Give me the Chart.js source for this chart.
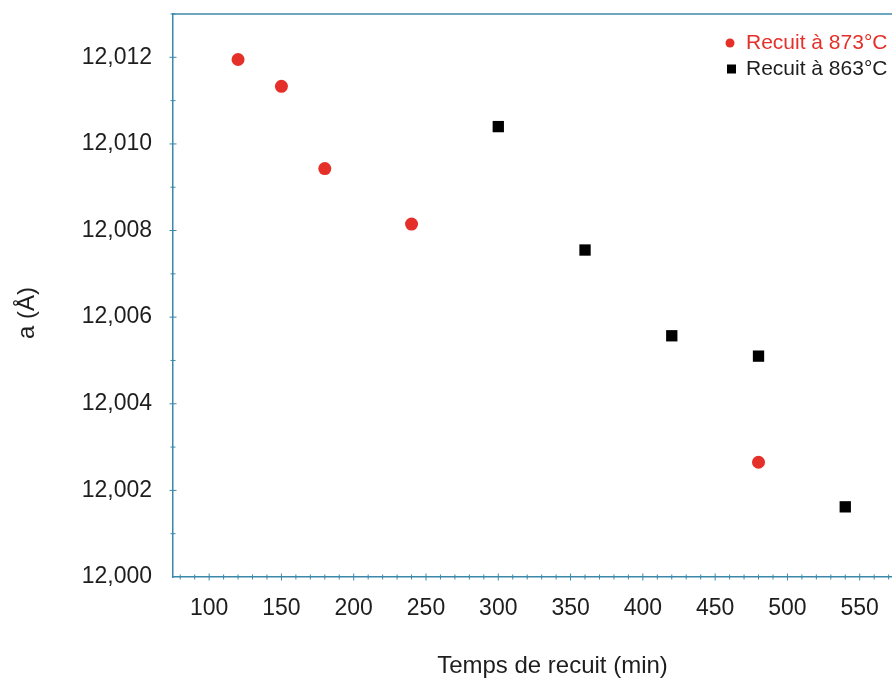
<!DOCTYPE html>
<html>
<head>
<meta charset="utf-8">
<script src="https://cdn.jsdelivr.net/npm/chart.js@4/dist/chart.umd.min.js"></script>
<style>
html, body { margin: 0; padding: 0; background: #fff; overflow: hidden; }
</style>
</head>
<body>
<canvas id="lattice-chart" width="940" height="682"></canvas>
<script>
// Recuit a 873 C
var times873 = [120, 150, 180, 240, 480];
var a873 = [12.01195, 12.01133, 12.00943, 12.00815, 12.00265];
// Recuit a 863 C
var times863 = [300, 360, 420, 480, 540];
var a863 = [12.01040, 12.00755, 12.00557, 12.00510, 12.00162];

var xTicks = [100, 150, 200, 250, 300, 350, 400, 450, 500, 550];
var yTicks = [12.000, 12.002, 12.004, 12.006, 12.008, 12.010, 12.012];
var yTitle = 'a (Å)';

var axisColor = '#3b88aa';
var textColor = '#1e1e1e';
var redColor = '#e5302a';
var fontFamily = '"Liberation Sans", Arial, sans-serif';

function toPoints(xs, ys) {
    return xs.map(function (x, i) { return { x: x, y: ys[i] }; });
}

var frame = {
    id: 'frame',
    afterDraw: function (chart) {
        var c = chart.ctx;
        var area = chart.chartArea;
        var xs = chart.scales.x, ys = chart.scales.y;
        c.save();
        c.strokeStyle = axisColor;
        c.lineWidth = 1.5;
        // top border
        c.beginPath();
        c.moveTo(area.left, area.top);
        c.lineTo(area.right, area.top);
        c.stroke();
        // x ticks (major every 50, minor every 10)
        c.lineWidth = 1;
        for (var v = 80; v <= 600; v += 10) {
            var px = xs.getPixelForValue(v);
            if (px < area.left + 1) continue;
            var len = (v % 50 === 0) ? 3.5 : 2.5;
            c.beginPath();
            c.moveTo(px, area.bottom - len);
            c.lineTo(px, area.bottom + len);
            c.stroke();
        }
        // y ticks (major every 0.002, minor every 0.001)
        for (var k = 1; k <= 13; k++) {
            var py = ys.getPixelForValue(12 + k * 0.001);
            var l = (k % 2 === 0) ? 3.5 : 2.5;
            c.beginPath();
            c.moveTo(area.left - l, py);
            c.lineTo(area.left + l, py);
            c.stroke();
        }
        // y title, a bit below the middle like the original
        c.save();
        c.translate(27, 313);
        c.rotate(-Math.PI / 2);
        c.font = '24px ' + fontFamily;
        c.fillStyle = textColor;
        c.textAlign = 'center';
        c.textBaseline = 'middle';
        c.fillText(yTitle, 0, 0);
        c.restore();
        // legend
        var ds = chart.data.datasets;
        c.font = '21px ' + fontFamily;
        c.textBaseline = 'middle';
        c.fillStyle = redColor;
        c.beginPath();
        c.arc(730, 43, 4.5, 0, Math.PI * 2);
        c.fill();
        c.fillText(ds[0].label, 746, 43);
        c.fillStyle = '#000';
        c.fillRect(727, 64.5, 9, 9);
        c.fillStyle = textColor;
        c.fillText(ds[1].label, 746, 69);
        c.restore();
    }
};

var ctx = document.getElementById('lattice-chart').getContext('2d');
var chart = new Chart(ctx, {
    type: 'scatter',
    data: {
        datasets: [{
            label: 'Recuit à 873°C',
            data: toPoints(times873, a873),
            pointStyle: 'circle',
            pointRadius: 6.5,
            backgroundColor: redColor,
            borderColor: redColor,
            borderWidth: 0
        }, {
            label: 'Recuit à 863°C',
            data: toPoints(times863, a863),
            pointStyle: 'rect',
            pointRadius: 8,
            backgroundColor: '#000',
            borderColor: '#000',
            borderWidth: 0
        }]
    },
    options: {
        responsive: false,
        animation: false,
        devicePixelRatio: 1,
        layout: { padding: { left: 13, top: 14, right: 0, bottom: 1 } },
        plugins: {
            legend: { display: false },
            tooltip: { enabled: false }
        },
        scales: {
            x: {
                type: 'linear',
                min: 75,
                max: 600,
                afterBuildTicks: function (scale) {
                    scale.ticks = xTicks.map(function (v) { return { value: v }; });
                },
                afterFit: function (scale) {
                    scale.height = 104;
                    scale.paddingLeft = 0;
                    scale.paddingRight = 0;
                },
                grid: { display: false, drawTicks: false },
                border: { display: true, color: axisColor, width: 1.5 },
                ticks: {
                    padding: 18,
                    maxRotation: 0,
                    color: textColor,
                    font: { family: fontFamily, size: 23 },
                    callback: function (v) { return String(v); }
                },
                title: {
                    display: true,
                    text: 'Temps de recuit (min)',
                    color: textColor,
                    padding: 0,
                    font: { family: fontFamily, size: 24 }
                }
            },
            y: {
                type: 'linear',
                min: 12.000,
                max: 12.013,
                afterBuildTicks: function (scale) {
                    scale.ticks = yTicks.map(function (v) { return { value: v }; });
                },
                afterFit: function (scale) {
                    scale.width = 160;
                    scale.paddingTop = 0;
                    scale.paddingBottom = 0;
                },
                grid: { display: false, drawTicks: false },
                border: { display: true, color: axisColor, width: 1.5 },
                ticks: {
                    padding: 21,
                    color: textColor,
                    font: { family: fontFamily, size: 23 },
                    callback: function (v) { return v.toFixed(3).replace('.', ','); }
                },
                title: { display: false }
            }
        }
    },
    plugins: [frame]
});
</script>
</body>
</html>
